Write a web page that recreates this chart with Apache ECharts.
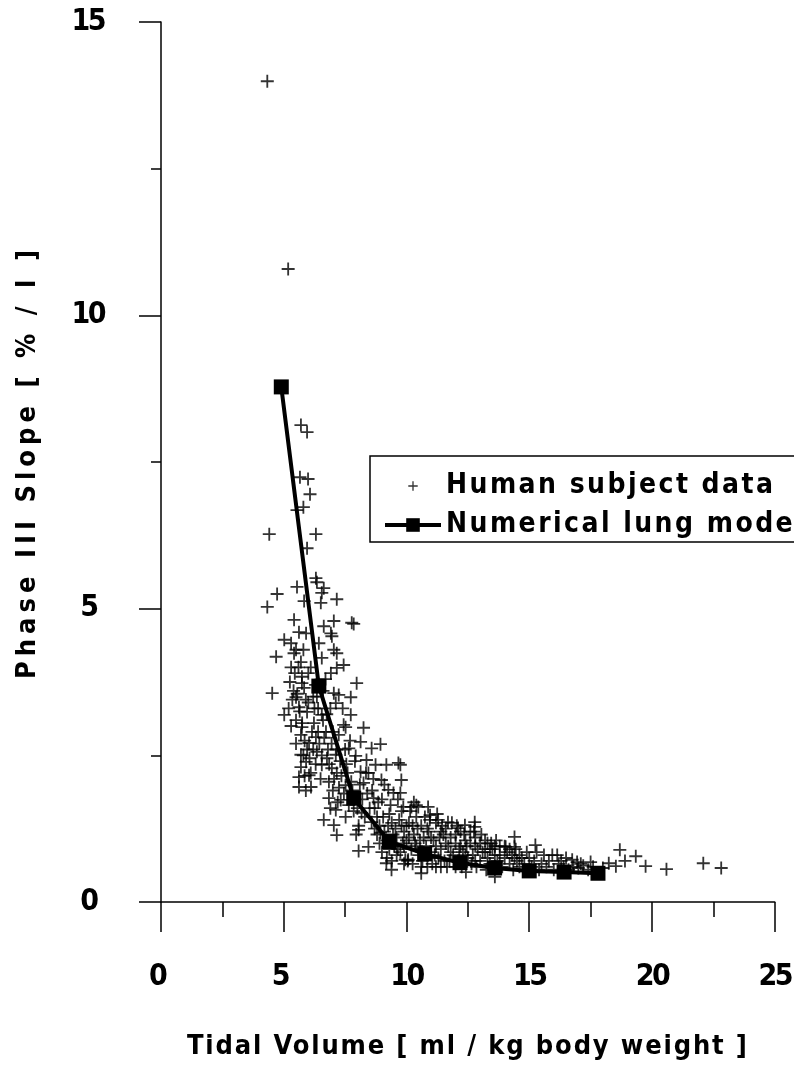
<!DOCTYPE html>
<html><head><meta charset="utf-8">
<script src="https://cdn.jsdelivr.net/npm/echarts@6/dist/echarts.min.js"></script>
<style>html,body{margin:0;padding:0;background:#fff}#c{width:794px;height:1068px}</style>
</head><body><div id="c"></div>
<script>
// ---------------- DATA ----------------
const X_NAME = 'Tidal Volume [ ml / kg body weight ]';
const Y_NAME = 'Phase III Slope [ % / l ]';
const SERIES_NAMES = ['Human subject data', 'Numerical lung model'];
const X_RANGE = [0, 25];
const Y_RANGE = [0, 15];
const TICK_STEP_X = 5;
const TICK_STEP_Y = 5;

const MODEL_X = [4.9, 6.43, 7.85, 9.3, 10.74, 12.18, 13.59, 15.0, 16.42, 17.8];
const MODEL_Y = [8.78, 3.68, 1.77, 1.03, 0.82, 0.67, 0.58, 0.53, 0.51, 0.49];

const HUMAN_UPPER = [
  [4.33,13.99],[5.18,10.79],[5.7,8.13],[5.95,8.01],[5.66,7.24],[5.99,7.21],[6.07,6.95],[5.8,6.73],
  [5.54,6.68],[4.41,6.27],[6.31,6.27],[5.95,6.03],[6.31,5.52],[6.35,5.45],[5.54,5.37],[6.63,5.35],
  [6.55,5.27],[4.73,5.25],[7.16,5.16],[5.83,5.13],[4.33,5.03],[6.51,5.1]
];
const HUMAN_MID = [
  [5.42,4.81],[7.04,4.79],[7.85,4.74],[7.77,4.76],[5.02,4.47],[5.62,4.6],[5.91,4.58],[6.63,4.7],
  [6.92,4.58],[6.96,4.53],[6.43,4.41],[5.3,4.41],[5.42,4.24],[4.69,4.18],[7.04,4.3],[7.16,4.24],
  [6.55,4.16],[5.7,4.09],[7.44,4.04],[6.92,3.9],[7.16,3.99],[5.74,3.84],[7.97,3.73],[5.74,3.73],
  [4.53,3.56],[5.83,3.65],[7.04,3.56],[7.24,3.53],[7.73,3.49],[5.5,3.49],[5.62,3.32],[7.12,3.39],
  [5.95,3.24],[5.02,3.19],[6.55,3.19],[7.73,3.19],[5.5,3.1],[6.23,3.05],[7.44,3.02],[7.52,2.98],
  [8.25,2.97],[5.74,2.98],[5.7,2.85],[6.72,2.9],[6.31,2.81],[7.24,2.85],[6.03,2.71],[8.13,2.73],
  [8.94,2.69],[8.58,2.62],[6.35,2.56],[7.65,2.62],[5.7,2.51],[6.76,2.45],[7.12,2.51],[7.93,2.49],
  [8.37,2.42],[5.91,2.39],[6.55,2.34],[8.74,2.34],[9.18,2.34],[9.67,2.37],[6.96,2.28],[5.62,2.13],
  [6.03,2.16],[7.16,2.2],[8.13,2.22],[8.45,2.2],[8.98,2.08],[9.79,2.08],[5.62,1.96],[6.11,1.96],
  [6.84,2.05],[7.52,1.99],[8.25,2.03],[9.26,1.91],[9.47,1.86],[6.84,1.77],[7.32,1.74],[8.66,1.77],
  [10.4,1.65],[10.88,1.62],[7.12,1.57],[6.63,1.4],[7.04,1.31],[7.52,1.45],[8.17,1.52],[8.58,1.36],
  [7.16,1.14],[8.05,1.23],[8.94,1.18],[8.45,0.94],
  [5.3,3.0],[5.5,2.7],[5.8,2.5],[6.0,3.4],[6.2,2.6],[6.4,2.9],[6.6,3.1],[6.8,2.6],[6.1,2.2],
  [5.9,1.9],[6.5,2.1],[6.9,3.3],[5.4,3.6],[5.6,4.0],[6.7,3.8],[7.0,2.9],[7.3,2.4],[7.4,3.3],
  [6.3,3.7],[5.2,3.3],
  [7.6,2.2],[7.8,1.9],[7.9,2.4],[8.0,1.6],[8.1,2.0],[8.2,1.75],[8.3,1.45],[8.4,1.85],[7.5,2.6],
  [7.7,2.75],[8.05,1.3],[8.5,1.6],[8.35,2.2],[7.95,1.15],
  [5.25,3.75],[5.35,3.45],[5.45,3.9],[5.55,3.55],[5.65,3.25],[5.75,3.05],[5.85,2.75],[5.95,2.6],
  [6.05,2.45],[6.15,2.9],[6.25,3.3],[6.35,3.5],[6.45,2.7],[6.55,2.5],[6.65,2.8],[6.75,3.2],
  [6.85,2.35],[6.95,2.7],[7.05,2.1],[7.15,2.6],[7.25,1.95],[7.35,2.15],[7.45,1.85],[7.55,2.35],
  [7.65,1.65],[7.75,2.05],[7.85,1.55],[5.3,4.0],[5.5,4.3],[5.8,4.3],[6.1,4.0],[6.2,3.5],[6.0,3.9],
  [5.9,3.45],[6.4,3.3],[6.6,3.6],[5.7,2.3],[5.85,2.15],[6.3,2.35],[6.9,1.6],[7.0,1.9],[7.2,1.7]
];
const HUMAN_LOWER = [
  [9.75,2.34],[9.75,1.86],[9.87,1.62],[10.2,1.62],[10.48,1.62],[10.96,1.48],[11.29,1.4],[11.69,1.36],
  [12.78,1.36],[12.38,1.31],[12.1,1.26],[12.78,1.28],[14.4,1.11],[15.25,0.97],[14.04,0.94],[15.94,0.8],
  [16.14,0.8],[16.95,0.68],[10.07,0.72],[10.6,0.49],[11.2,0.6],[12.42,0.51],[13.6,0.43],[13.3,1.0],
  [14.4,0.94],[8.05,0.87],[9.18,0.66],[9.39,0.55],[9.95,0.72],
  [8.6,1.9],[8.7,1.6],[8.8,1.45],[8.9,1.3],[9.0,1.75],[9.1,1.2],[9.2,1.05],[9.3,1.5],[9.4,1.35],[9.5,0.95],
  [8.8,1.15],[9.0,0.85],[9.2,0.75],[9.4,0.7],[8.65,2.1],[9.1,2.0],[9.35,1.65],[9.55,1.25],[8.9,1.0],[9.6,1.1],
  [9.7,1.4],[9.8,1.55],[9.9,1.2],[10.0,1.05],[10.1,1.35],[10.2,0.9],[10.3,1.15],[10.4,1.45],[10.5,0.8],
  [9.75,0.85],[9.9,0.95],[10.05,0.7],[10.25,0.65],[10.35,1.0],[10.45,1.25],[9.65,1.75],[10.15,1.55],
  [10.3,1.7],[9.85,1.0],[10.0,1.3],
  [10.6,1.3],[10.7,1.1],[10.8,0.95],[10.9,1.2],[11.0,0.85],[11.1,1.05],[11.2,1.35],[11.3,0.75],[11.4,0.9],
  [11.5,1.15],[10.65,0.7],[10.85,0.6],[11.05,0.65],[11.25,1.5],[11.45,1.3],[10.75,1.45],[11.15,0.8],
  [11.35,1.1],[10.95,1.4],[11.55,0.7],
  [11.6,1.25],[11.7,0.95],[11.8,1.1],[11.9,0.8],[12.0,1.0],[12.1,0.7],[12.2,1.2],[12.3,0.85],[12.4,1.05],
  [12.5,0.75],[11.65,0.6],[11.85,1.35],[12.05,1.3],[12.25,0.6],[12.45,0.95],[11.75,0.7],[12.15,0.9],[12.35,1.15],
  [12.6,1.0],[12.7,0.8],[12.8,1.1],[12.9,0.9],[13.0,0.7],[13.1,0.85],[13.2,1.05],[13.3,0.75],[13.4,0.65],
  [13.5,0.9],[12.65,0.65],[12.85,0.6],[13.05,1.15],[13.25,0.55],[13.45,1.0],[12.75,1.2],
  [13.6,0.8],[13.7,0.7],[13.8,0.95],[13.9,0.6],[14.0,0.75],[14.1,0.85],[14.2,0.65],[14.3,0.8],[14.5,0.7],
  [13.65,1.05],[14.35,0.55],[14.45,0.9],
  [14.6,0.6],[14.7,0.75],[14.8,0.65],[14.9,0.85],[15.1,0.6],[15.2,0.7],[15.4,0.55],[15.5,0.65],[15.7,0.6],
  [15.8,0.7],[16.0,0.55],[16.2,0.65],[16.4,0.6],[16.6,0.55],[16.8,0.6],[17.0,0.58],[17.2,0.62],[17.4,0.55],
  [17.6,0.6],[18.0,0.58],
  [8.7,1.25],[8.85,1.7],[9.05,1.45],[9.25,1.3],[9.45,1.15],[9.65,0.9],[9.8,1.3],[10.1,1.1],[10.25,1.3],
  [10.4,0.95],[10.55,1.05],[10.7,0.85],[10.85,1.25],[11.0,1.1],[11.2,0.95],[11.4,1.2],[11.6,1.0],[11.8,0.85],
  [12.0,1.15],[12.2,0.95],[12.4,0.8],[12.6,1.2],[12.8,0.95],[13.0,1.0],[13.2,0.85],[13.4,0.9],[13.6,0.95],
  [13.8,0.8],[14.0,0.95],[14.2,0.9],[14.4,0.75],[14.6,0.8],[9.3,0.9],[9.6,0.8],[9.9,0.65],[10.6,0.6],
  [11.4,0.6],[12.0,0.6],[12.8,0.7],[13.6,0.6],[14.8,0.55],[15.3,0.85],[15.6,0.8],[15.0,0.75],[16.3,0.7],
  [16.5,0.75],[17.1,0.65],[17.5,0.68]
];
const HUMAN_TAIL = [
  [18.69,0.89],[18.9,0.7],[18.53,0.61],[19.34,0.78],[19.74,0.61],[20.59,0.56],[22.09,0.66],[22.82,0.58],
  [18.24,0.66],[16.75,0.72]
];

// ---------------- STYLE ----------------
const FONT = "'DejaVu Sans Condensed', 'Liberation Sans', sans-serif";
const SIZE_TICK = 30, SIZE_TITLE = 27, SIZE_LEGEND = 28;
const PLUS = 'path://M4.3,0H5.7V4.3H10V5.7H5.7V10H4.3V5.7H0V4.3H4.3Z';
const PLUS_LEGEND = 'path://M-4,-4M14,14M4.3,0H5.7V4.3H10V5.7H5.7V10H4.3V5.7H0V4.3H4.3Z';

// wide-tracked titles and tight tick digits of the original typography
const proto = CanvasRenderingContext2D.prototype;
const oFill = proto.fillText, oMeasure = proto.measureText;
const TRACK_TARGET = [[X_NAME, SIZE_TITLE, 560], [Y_NAME, SIZE_TITLE, 429], [SERIES_NAMES[0], SIZE_LEGEND, 327]];
const SPACING = { '10': -2.5, '15': -2.5, '20': -2.5, '25': -2.5 };
(function () {
  const c = document.createElement('canvas').getContext('2d');
  for (const [t, size, width] of TRACK_TARGET) {
    c.font = 'bold ' + size + 'px ' + FONT;
    const w = oMeasure.call(c, t).width;
    SPACING[t] = (width - w) / (t.length - 1);
  }
  SPACING[SERIES_NAMES[1]] = SPACING[SERIES_NAMES[0]];
})();
proto.fillText = function (t, x, y, m) {
  const s = SPACING[t];
  const prev = this.letterSpacing;
  if (s) this.letterSpacing = s + 'px';
  if (m === undefined) oFill.call(this, t, x, y); else oFill.call(this, t, x, y, m);
  if (s) this.letterSpacing = prev;
};
proto.measureText = function (t) {
  const s = SPACING[t];
  const prev = this.letterSpacing;
  if (s) this.letterSpacing = s + 'px';
  const r = oMeasure.call(this, t);
  if (s) this.letterSpacing = prev;
  return r;
};

const humanData = HUMAN_UPPER.concat(HUMAN_MID, HUMAN_LOWER, HUMAN_TAIL);
const modelData = MODEL_X.map((x, i) => [x, MODEL_Y[i]]);

const chart = echarts.init(document.getElementById('c'), null, { renderer: 'canvas' });
const axisCommon = {
  type: 'value',
  nameLocation: 'middle',
  nameTextStyle: { fontFamily: FONT, fontWeight: 'bold', fontSize: SIZE_TITLE, color: '#000' },
  axisLine: { show: true, onZero: false, lineStyle: { color: '#000', width: 1.5 } },
  splitLine: { show: false },
  axisLabel: { fontFamily: FONT, fontWeight: 'bold', fontSize: SIZE_TICK, color: '#000' }
};
chart.setOption({
  animation: false,
  backgroundColor: '#fff',
  grid: { left: 161, right: 15, top: 22, bottom: 166, containLabel: false },
  xAxis: Object.assign({}, axisCommon, {
    min: X_RANGE[0], max: X_RANGE[1], interval: TICK_STEP_X,
    name: X_NAME, nameGap: 131,
    axisTick: { show: true, length: 30, lineStyle: { color: '#000', width: 1.5 } },
    minorTick: { show: true, splitNumber: 2, length: 15, lineStyle: { color: '#000', width: 1.5 } },
    axisLabel: Object.assign({}, axisCommon.axisLabel, { margin: 60 })
  }),
  yAxis: Object.assign({}, axisCommon, {
    min: Y_RANGE[0], max: Y_RANGE[1], interval: TICK_STEP_Y,
    name: Y_NAME, nameGap: 120,
    axisTick: { show: true, length: 22, lineStyle: { color: '#000', width: 1.5 } },
    minorTick: { show: true, splitNumber: 2, length: 10, lineStyle: { color: '#000', width: 1.5 } },
    axisLabel: Object.assign({}, axisCommon.axisLabel, { margin: 57 })
  }),
  legend: {
    orient: 'vertical', left: 370, top: 456,
    padding: [16, 60, 3, 13],
    itemWidth: 56, itemHeight: 17, itemGap: 11,
    borderColor: '#000', borderWidth: 1.5, backgroundColor: '#fff',
    lineStyle: { width: 4 },
    textStyle: { fontFamily: FONT, fontWeight: 'bold', fontSize: SIZE_LEGEND, lineHeight: 28, color: '#000' },
    data: [{ name: SERIES_NAMES[0], icon: PLUS_LEGEND }, { name: SERIES_NAMES[1] }],
    selectedMode: false
  },
  series: [
    {
      name: SERIES_NAMES[0], type: 'scatter', data: humanData,
      symbol: PLUS, symbolSize: 13, itemStyle: { color: '#000' }, z: 2, silent: true
    },
    {
      name: SERIES_NAMES[1], type: 'line', data: modelData,
      symbol: 'rect', symbolSize: 15, showAllSymbol: true,
      lineStyle: { color: '#000', width: 4 }, itemStyle: { color: '#000' }, z: 3, silent: true
    }
  ]
});
</script></body></html>
